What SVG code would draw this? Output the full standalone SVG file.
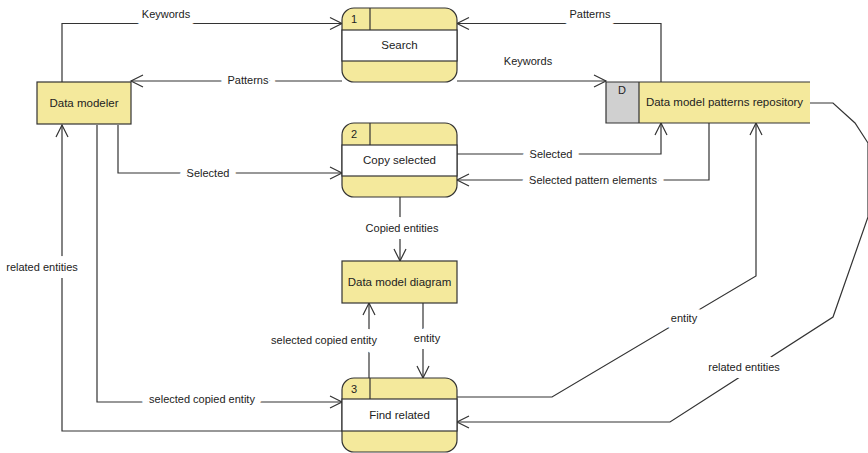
<svg xmlns="http://www.w3.org/2000/svg" width="868" height="453" viewBox="0 0 868 453">
  <defs>
    <marker id="arrow" markerUnits="userSpaceOnUse" markerWidth="14" markerHeight="14" refX="12" refY="6" orient="auto" overflow="visible">
      <path d="M0,0 L12,6 L0,12" fill="none" stroke="#333" stroke-width="1.2"/>
    </marker>
  </defs>
  <style>
    .edge { fill: none; stroke: #333; stroke-width: 1.2; }
    .head { marker-end: url(#arrow); }
    .lbl { font-family: "Liberation Sans", Arial, sans-serif; font-size: 11px; fill: #222; text-anchor: middle; stroke: #fff; stroke-width: 14px; stroke-linejoin: round; paint-order: stroke; }
    .box { fill: #f4e99c; stroke: #333; stroke-width: 1.2; }
    .band { fill: #fff; stroke: #333; stroke-width: 1.2; }
    .txt { font-family: "Liberation Sans", Arial, sans-serif; font-size: 11.5px; fill: #222; text-anchor: middle; }
    .num { font-family: "Liberation Sans", Arial, sans-serif; font-size: 11px; fill: #222; }
  </style>
  <rect width="868" height="453" fill="#fff"/>

  <!-- connectors -->
  <g id="connectors">
    <path class="edge head" d="M62,82 V23.5 H342"/>
    <path class="edge head" d="M661,82 V23.5 H457"/>
    <path class="edge head" d="M342,81 H131"/>
    <path class="edge head" d="M457,81 H606"/>
    <path class="edge head" d="M118,125 V173 H342"/>
    <path class="edge head" d="M457,154 H661 V123"/>
    <path class="edge head" d="M709,123 V180 H457"/>
    <path class="edge head" d="M400,197 V261"/>
    <path class="edge head" d="M369,378 V303"/>
    <path class="edge head" d="M423,303 V378"/>
    <path class="edge head" d="M97,125 V402 H342"/>
    <path class="edge head" d="M342,431 H62 V125"/>
    <path class="edge head" d="M457,397 H552 L756,276 V123"/>
    <path class="edge head" d="M810,103 H833 L855,123 L868,143 V217 L833,317 L670,422 H457"/>

    <text class="lbl" x="166" y="18">Keywords</text>
    <text class="lbl" x="590" y="18">Patterns</text>
    <text class="lbl" x="248" y="84">Patterns</text>
    <text class="lbl" x="528" y="65">Keywords</text>
    <text class="lbl" x="208" y="177">Selected</text>
    <text class="lbl" x="551" y="158">Selected</text>
    <text class="lbl" x="593" y="184">Selected pattern elements</text>
    <text class="lbl" x="402" y="232">Copied entities</text>
    <text class="lbl" x="324" y="344">selected copied entity</text>
    <text class="lbl" x="427" y="342">entity</text>
    <text class="lbl" x="202" y="403">selected copied entity</text>
    <text class="lbl" x="42" y="271">related entities</text>
    <text class="lbl" x="684" y="322">entity</text>
    <text class="lbl" x="744" y="371">related entities</text>
  </g>

  <!-- external entity -->
  <g id="data-modeler">
    <rect class="box" x="37" y="82" width="94" height="42"/>
    <text class="txt" x="84" y="107">Data modeler</text>
  </g>

  <!-- process 1 -->
  <g id="search">
    <rect class="box" x="342" y="8" width="115" height="74" rx="12"/>
    <rect class="band" x="342" y="30" width="115" height="31"/>
    <line class="edge" x1="370" y1="8" x2="370" y2="30"/>
    <text class="num" x="351" y="23">1</text>
    <text class="txt" x="399.5" y="49">Search</text>
  </g>

  <!-- process 2 -->
  <g id="copy-selected">
    <rect class="box" x="342" y="123" width="115" height="74" rx="12"/>
    <rect class="band" x="342" y="145" width="115" height="31"/>
    <line class="edge" x1="370" y1="123" x2="370" y2="145"/>
    <text class="num" x="351" y="138">2</text>
    <text class="txt" x="399.5" y="164">Copy selected</text>
  </g>

  <!-- process 3 -->
  <g id="find-related">
    <rect class="box" x="342" y="378" width="115" height="74" rx="12"/>
    <rect class="band" x="342" y="399" width="115" height="32"/>
    <line class="edge" x1="370" y1="378" x2="370" y2="399"/>
    <text class="num" x="351" y="393">3</text>
    <text class="txt" x="399.5" y="419">Find related</text>
  </g>

  <!-- data model diagram -->
  <g id="data-model-diagram">
    <rect class="box" x="342" y="261" width="115" height="42"/>
    <text class="txt" x="399.5" y="286">Data model diagram</text>
  </g>

  <!-- data store -->
  <g id="patterns-repository">
    <rect x="606" y="82" width="204" height="41" fill="#f4e99c"/>
    <rect x="606" y="82" width="33" height="41" fill="#d0d0d0"/>
    <path class="edge" d="M810,82 H606 V123 H810 M639,82 V123"/>
    <text class="num" x="618" y="94">D</text>
    <text class="txt" x="724.5" y="106">Data model patterns repository</text>
  </g>
</svg>
